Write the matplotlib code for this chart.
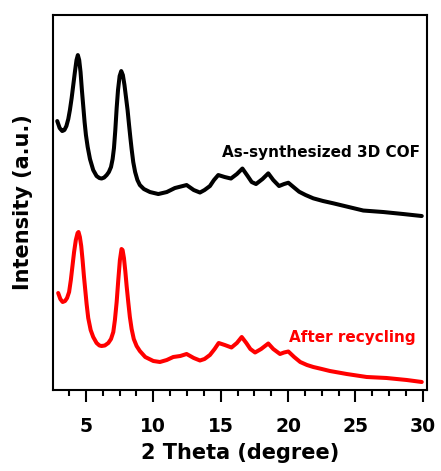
import matplotlib
matplotlib.use("Agg")
import matplotlib.pyplot as plt
from matplotlib.ticker import MultipleLocator

plt.rcParams['font.family'] = ['DejaVu Sans']
plt.rcParams['font.weight'] = 'bold'

# 2 theta (deg) and intensity (a.u.), as-synthesized 3D COF
two_theta_cof = [2.87, 3.05, 3.24, 3.40, 3.55, 3.69, 3.81, 3.94, 4.06, 4.18, 4.30, 4.40,
                 4.50, 4.60, 4.70, 4.80, 4.90, 5.00, 5.13, 5.30, 5.54, 5.79, 6.00, 6.16,
                 6.35, 6.54, 6.70, 6.86, 6.98, 7.08, 7.18, 7.28, 7.38, 7.50, 7.62, 7.74,
                 7.86, 7.98, 8.09, 8.20, 8.30, 8.39, 8.51, 8.65, 8.82, 9.00, 9.30, 9.75,
                 10.37, 11.0, 11.6, 12.47, 13.0, 13.46, 13.8, 14.2, 14.5, 14.82, 15.3,
                 15.76, 16.2, 16.61, 17.0, 17.3, 17.62, 18.1, 18.53, 18.9, 19.33, 19.7,
                 20.02, 20.4, 20.82, 21.3, 21.87, 22.6, 23.36, 24.5, 25.58, 27.07, 28.55,
                 29.92]
intensity_cof = [269, 262, 259, 260, 264, 271, 280, 292, 305, 318, 330, 335,
                 330, 318, 300, 284, 268, 255, 243, 231, 220, 214, 212, 211.5,
                 212.5, 215, 218, 223, 231, 242, 260, 282, 300, 314, 319, 315,
                 305, 292, 280, 265, 252, 241, 228, 218, 210, 205, 201, 198,
                 196, 198, 202, 205, 200, 197.5, 200, 204, 210, 215, 213,
                 211.5, 216, 221.5, 214, 208, 206, 211, 216.7, 210, 204, 206,
                 207.3, 203, 198.3, 195, 191.7, 189, 186.7, 183, 179.5, 178, 176,
                 174]

# after recycling
two_theta_rec = [2.94, 3.10, 3.27, 3.45, 3.60, 3.75, 3.88, 4.00, 4.12, 4.25, 4.38, 4.45,
                 4.55, 4.65, 4.75, 4.85, 4.95, 5.05, 5.17, 5.35, 5.54, 5.79, 6.00, 6.16,
                 6.40, 6.66, 6.86, 7.03, 7.15, 7.28, 7.40, 7.52, 7.64, 7.72, 7.82, 7.92,
                 8.02, 8.14, 8.26, 8.39, 8.55, 8.76, 9.00, 9.40, 10.0, 10.49, 11.0, 11.48,
                 12.0, 12.47, 13.0, 13.46, 13.8, 14.2, 14.55, 14.85, 15.3, 15.8, 16.2,
                 16.56, 16.9, 17.2, 17.55, 18.0, 18.53, 18.9, 19.4, 19.7, 20.02, 20.45,
                 20.9, 21.4, 21.87, 22.5, 23.1, 24.35, 25.83, 27.3, 28.8, 29.92]
intensity_rec = [97, 91, 88, 89, 92, 98, 110, 124, 138, 150, 157, 158,
                 153, 144, 130, 114, 100, 86, 72, 60, 53, 47, 44.5, 44,
                 44.5, 47, 51, 58, 70, 88, 110, 130, 141, 140, 132, 119,
                 104, 88, 73, 61, 51, 44, 39, 33, 29, 28, 30, 33,
                 34, 36, 32, 29.5, 31, 35, 41, 47, 45, 42.5, 47,
                 53, 47, 41, 37.5, 41, 46.5, 41, 36, 37.5, 38.5, 33,
                 28, 25, 23, 21, 19, 16, 13, 12, 10, 8]

fig = plt.figure(figsize=(4.41, 4.71), dpi=100)
ax = fig.add_axes([0.120, 0.172, 0.848, 0.796])

ax.plot(two_theta_cof, intensity_cof, color='black', lw=2.9,
        solid_joinstyle='round', solid_capstyle='round')
ax.plot(two_theta_rec, intensity_rec, color='#ff0000', lw=2.9,
        solid_joinstyle='round', solid_capstyle='round')

ax.text(22.43, 232.7, 'As-synthesized 3D COF', fontsize=11, fontweight='bold',
        color='black', ha='center', va='baseline')
ax.text(24.77, 48.3, 'After recycling', fontsize=11, fontweight='bold',
        color='#ff0000', ha='center', va='baseline')

ax.set_xlim(2.55, 30.3)
ax.set_ylim(0, 375)
ax.xaxis.set_major_locator(MultipleLocator(5))
ax.xaxis.set_minor_locator(MultipleLocator(1.25))
ax.set_yticks([])
ax.tick_params(axis='x', which='major', direction='out', length=8.5, width=1.5,
               labelsize=13.5, pad=11)
ax.tick_params(axis='x', which='minor', direction='out', length=4, width=1.5)
for s in ax.spines.values():
    s.set_linewidth(1.5)

ax.set_xlabel('2 Theta (degree)', fontsize=15, fontweight='bold', labelpad=5)
ax.set_ylabel('Intensity (a.u.)', fontsize=15, fontweight='bold', labelpad=14)

fig.savefig('out.png', dpi=100)
